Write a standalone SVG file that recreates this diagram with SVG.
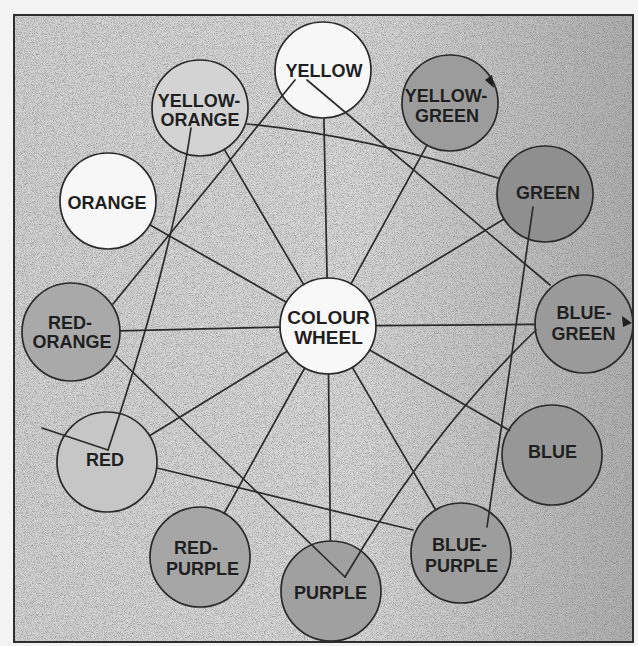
<svg xmlns="http://www.w3.org/2000/svg" width="638" height="646" viewBox="0 0 638 646">
<defs>
<style>
.node circle{stroke:#2a2a2a;stroke-width:1.7}
.node text{font-family:"Liberation Sans",Arial,sans-serif;font-weight:bold;font-size:18px;fill:#1f1f1f;text-anchor:middle}
.edges path,.edges line{stroke:#2b2b2b;stroke-width:1.7;fill:none;stroke-linecap:round}
.mark{fill:#1f1f1f}
</style>
<linearGradient id="bg" x1="0" y1="0" x2="1" y2="0">
<stop offset="0" stop-color="#d2d2d2"/>
<stop offset="0.55" stop-color="#d8d8d8"/>
<stop offset="1" stop-color="#b0b0b0"/>
</linearGradient>
<filter id="noise" x="0" y="0" width="100%" height="100%">
<feTurbulence type="fractalNoise" baseFrequency="1.1" numOctaves="2" seed="7"/>
<feColorMatrix type="matrix" values="0 0 0 0 0.15  0 0 0 0 0.15  0 0 0 0 0.15  -2.6 0 0 0 1.5"/>
</filter>
</defs>
<rect width="638" height="646" fill="#f3f3f3"/>
<rect x="14" y="15" width="619" height="627" fill="url(#bg)"/>
<rect x="14" y="15" width="619" height="627" filter="url(#noise)" opacity="0.55"/>
<rect x="14" y="15" width="619" height="627" fill="none" stroke="#2e2e2e" stroke-width="2"/>

<g id="node-yellow" class="node">
<circle cx="323" cy="70" r="48" fill="#f7f7f7"/>
<text x="324" y="76.5">YELLOW</text>
</g>
<g id="node-yellow-orange" class="node">
<circle cx="200" cy="108" r="48" fill="#d3d3d3"/>
<text x="199" y="107">YELLOW-</text>
<text x="200" y="126">ORANGE</text>
</g>
<g id="node-yellow-green" class="node">
<circle cx="450" cy="103" r="48" fill="#9c9c9c"/>
<text x="446" y="102">YELLOW-</text>
<text x="447" y="122">GREEN</text>
<polygon class="mark" points="485,80 492,75 494,88"/>
</g>
<g id="node-orange" class="node">
<circle cx="108" cy="201" r="48" fill="#f7f7f7"/>
<text x="107" y="209">ORANGE</text>
</g>
<g id="node-green" class="node">
<circle cx="545" cy="194" r="48" fill="#8f8f8f"/>
<text x="548" y="199">GREEN</text>
</g>
<g id="node-red-orange" class="node">
<circle cx="71" cy="332" r="49" fill="#a9a9a9"/>
<text x="70" y="329">RED-</text>
<text x="72" y="348">ORANGE</text>
</g>
<g id="node-colour-wheel" class="node">
<circle cx="328" cy="326" r="48" fill="#f8f8f8"/>
<text x="328.5" y="324" style="font-size:19px">COLOUR</text>
<text x="328.5" y="344" style="font-size:19px">WHEEL</text>
</g>
<g id="node-blue-green" class="node">
<circle cx="584" cy="324" r="49" fill="#9a9a9a"/>
<text x="584" y="319">BLUE-</text>
<text x="583.5" y="340">GREEN</text>
<polygon class="mark" points="622,316 632,323 623,327"/>
</g>
<g id="node-red" class="node">
<circle cx="107" cy="462" r="50" fill="#c6c6c6"/>
<text x="105" y="466">RED</text>
</g>
<g id="node-blue" class="node">
<circle cx="552" cy="455" r="50" fill="#979797"/>
<text x="552.5" y="458">BLUE</text>
</g>
<g id="node-red-purple" class="node">
<circle cx="200" cy="557" r="50" fill="#a6a6a6"/>
<text x="196" y="554">RED-</text>
<text x="202.5" y="575">PURPLE</text>
</g>
<g id="node-purple" class="node">
<circle cx="331" cy="591" r="50" fill="#a0a0a0"/>
<text x="330.5" y="599">PURPLE</text>
</g>
<g id="node-blue-purple" class="node">
<circle cx="461" cy="553" r="50" fill="#9d9d9d"/>
<text x="459.5" y="551">BLUE-</text>
<text x="461.5" y="572">PURPLE</text>
</g>

<g id="connectors" class="edges">
<line x1="327.1" y1="278" x2="323.9" y2="118"/>
<line x1="303.7" y1="284.6" x2="224.3" y2="149.4"/>
<line x1="351" y1="283.9" x2="427" y2="145.1"/>
<line x1="286.3" y1="302.3" x2="149.7" y2="224.7"/>
<line x1="369" y1="301" x2="504" y2="219"/>
<line x1="280" y1="327.1" x2="120" y2="330.9"/>
<line x1="376" y1="325.6" x2="535" y2="324.4"/>
<line x1="287.1" y1="351.2" x2="149.6" y2="435.8"/>
<line x1="369.6" y1="350" x2="509.5" y2="430.5"/>
<line x1="304.7" y1="368" x2="224.2" y2="513.3"/>
<line x1="328.5" y1="374" x2="330.4" y2="541"/>
<line x1="352.3" y1="367.4" x2="435.7" y2="509.9"/>
<line x1="295" y1="80" x2="113" y2="304"/>
<line x1="307" y1="80" x2="550" y2="285"/>
<path d="M345,577 Q430,432 536,330"/>
<line x1="116" y1="356" x2="345" y2="577"/>
<path d="M247,124 Q360,135 498,178"/>
<line x1="533" y1="207" x2="487" y2="527"/>
<line x1="157" y1="468" x2="413" y2="530"/>
<path d="M108,450 Q172,258 191,128"/>
<line x1="42" y1="428" x2="108" y2="450"/>
</g>
</svg>
